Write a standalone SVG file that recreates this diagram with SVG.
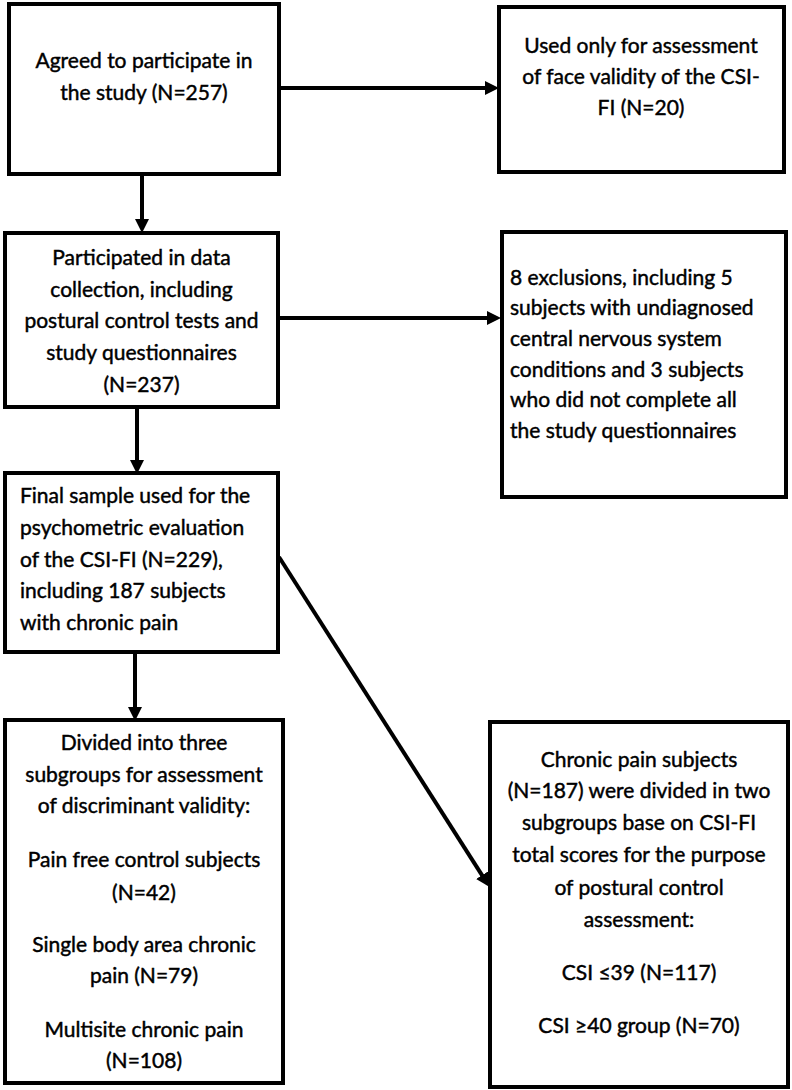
<svg xmlns="http://www.w3.org/2000/svg" width="792" height="1090" viewBox="0 0 792 1090">
<style>
.box{fill:#fff;stroke:#000;stroke-width:4}
.t{font-family:Lato,"Open Sans",sans-serif;font-size:21px;fill:#000;stroke:#000;stroke-width:0.45}
.c{text-anchor:middle}
.ln{stroke:#000;stroke-width:4;fill:none}
</style>
<defs>
<marker id="ah" markerUnits="userSpaceOnUse" markerWidth="15" markerHeight="15" refX="4" refY="7" orient="auto">
<path d="M0,0 L14,7 L0,14 z" fill="#000"/>
</marker>
</defs>
<rect width="792" height="1090" fill="#fff"/>
<g id="connectors">
<line class="ln" x1="279" y1="88" x2="489" y2="88" marker-end="url(#ah)"/>
<line class="ln" x1="142" y1="174" x2="142" y2="223" marker-end="url(#ah)"/>
<line class="ln" x1="278" y1="318" x2="491" y2="318" marker-end="url(#ah)"/>
<line class="ln" x1="137" y1="407" x2="137" y2="464" marker-end="url(#ah)"/>
<line class="ln" x1="279" y1="557" x2="484.2" y2="878.6" marker-end="url(#ah)"/>
<line class="ln" x1="135" y1="652" x2="135" y2="711" marker-end="url(#ah)"/>
</g>
<g id="n1">
<rect class="box" x="9" y="4" width="270" height="170"/>
<text class="t c" x="144" y="68">Agreed to participate in</text>
<text class="t c" x="144" y="100">the study (N=257)</text>
</g>
<g id="n2">
<rect class="box" x="499" y="7" width="285" height="165"/>
<text class="t c" x="641" y="53">Used only for assessment</text>
<text class="t c" x="641" y="84">of face validity of the CSI-</text>
<text class="t c" x="641" y="115">FI (N=20)</text>
</g>
<g id="n3">
<rect class="box" x="5" y="233" width="273" height="174"/>
<text class="t c" x="141.5" y="265">Participated in data</text>
<text class="t c" x="141.5" y="297">collection, including</text>
<text class="t c" x="141.5" y="328">postural control tests and</text>
<text class="t c" x="141.5" y="360">study questionnaires</text>
<text class="t c" x="141.5" y="392">(N=237)</text>
</g>
<g id="n4">
<rect class="box" x="502" y="232" width="284" height="265"/>
<text class="t" x="510" y="285">8 exclusions, including 5</text>
<text class="t" x="510" y="315">subjects with undiagnosed</text>
<text class="t" x="510" y="346">central nervous system</text>
<text class="t" x="510" y="377">conditions and 3 subjects</text>
<text class="t" x="510" y="407">who did not complete all</text>
<text class="t" x="510" y="438">the study questionnaires</text>
</g>
<g id="n5">
<rect class="box" x="5" y="473" width="273" height="179"/>
<text class="t" x="20" y="503">Final sample used for the</text>
<text class="t" x="20" y="535">psychometric evaluation</text>
<text class="t" x="20" y="567">of the CSI-FI (N=229),</text>
<text class="t" x="20" y="598">including 187 subjects</text>
<text class="t" x="20" y="630">with chronic pain</text>
</g>
<g id="n6">
<rect class="box" x="490" y="722" width="298" height="365"/>
<text class="t c" x="639" y="767">Chronic pain subjects</text>
<text class="t c" x="639" y="798">(N=187) were divided in two</text>
<text class="t c" x="639" y="830">subgroups base on CSI-FI</text>
<text class="t c" x="639" y="862">total scores for the purpose</text>
<text class="t c" x="639" y="895">of postural control</text>
<text class="t c" x="639" y="927">assessment:</text>
<text class="t c" x="639" y="980">CSI ≤39 (N=117)</text>
<text class="t c" x="639" y="1033">CSI ≥40 group (N=70)</text>
</g>
<g id="n7">
<rect class="box" x="5" y="720" width="278" height="363"/>
<text class="t c" x="144" y="750">Divided into three</text>
<text class="t c" x="144" y="782">subgroups for assessment</text>
<text class="t c" x="144" y="813">of discriminant validity:</text>
<text class="t c" x="144" y="867">Pain free control subjects</text>
<text class="t c" x="144" y="900">(N=42)</text>
<text class="t c" x="144" y="952">Single body area chronic</text>
<text class="t c" x="144" y="983">pain (N=79)</text>
<text class="t c" x="144" y="1037">Multisite chronic pain</text>
<text class="t c" x="144" y="1068">(N=108)</text>
</g>
</svg>
